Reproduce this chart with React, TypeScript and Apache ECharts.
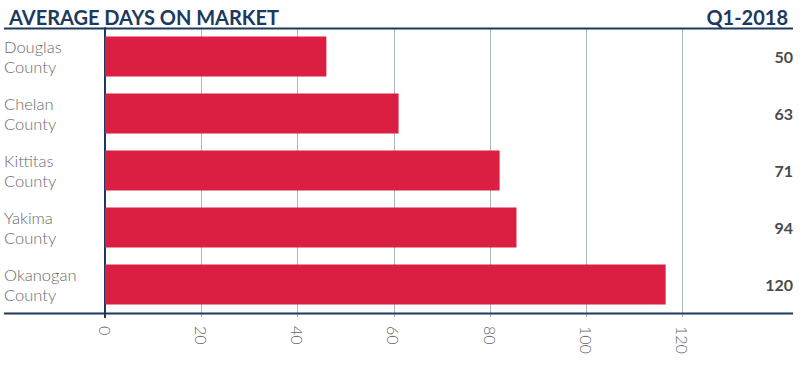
import React, { useEffect, useRef } from "react";
import * as echarts from "echarts";

const counties = ["Douglas\nCounty", "Chelan\nCounty", "Kittitas\nCounty", "Yakima\nCounty", "Okanogan\nCounty"];
const barValues = [46, 61, 82, 85.5, 116.5];
const rightLabels = ["50", "63", "71", "94", "120"];
const xTicks = [0, 20, 40, 60, 80, 100, 120];
const titleText = "AVERAGE DAYS ON MARKET";
const periodText = "Q1-2018";

const NAVY = "#1b3a5e";
const RED = "#da1f42";
const GRID = "#a9b7c3";
const FONT = "Lato, 'Open Sans', sans-serif";

export default function App() {
  const ref = useRef<HTMLDivElement>(null);
  useEffect(() => {
    if (!ref.current) return;
    const chart = echarts.init(ref.current, null, { renderer: "svg" });
    chart.setOption({
      animation: false,
      backgroundColor: "#ffffff",
      title: [
        {
          text: titleText,
          left: 4,
          top: 2,
          textStyle: { fontFamily: FONT, fontSize: 20, fontWeight: "bold", color: NAVY },
        },
        {
          text: periodText,
          right: 7,
          top: 2,
          textStyle: { fontFamily: FONT, fontSize: 20, fontWeight: "bold", color: NAVY },
        },
      ],
      grid: { left: 105, right: 117.5, top: 28, bottom: 73, containLabel: false },
      xAxis: {
        type: "value",
        min: 0,
        max: 120,
        interval: 20,
        axisLine: { show: false },
        axisTick: { show: true, length: 4, lineStyle: { color: GRID, width: 1 } },
        splitLine: { show: true, lineStyle: { color: GRID, width: 1 } },
        axisLabel: {
          rotate: -90,
          margin: 13,
          color: "#666666",
          fontFamily: FONT,
          fontSize: 16,
          fontWeight: 300,
          formatter: (v: number) => (xTicks.includes(v) ? String(v) : ""),
        },
      },
      yAxis: [
        {
          type: "category",
          data: counties,
          inverse: true,
          axisLine: { show: true, lineStyle: { color: NAVY, width: 2 } },
          axisTick: { show: false },
          axisLabel: {
            align: "left",
            margin: 101,
            color: "#6a6a6a",
            fontFamily: FONT,
            fontSize: 16.5,
            fontWeight: 300,
            lineHeight: 20,
          },
        },
        {
          type: "category",
          data: rightLabels,
          inverse: true,
          position: "right",
          axisLine: { show: false },
          axisTick: { show: false },
          axisLabel: {
            align: "right",
            margin: 110.5,
            color: "#4a4a4a",
            fontFamily: FONT,
            fontSize: 16,
            fontWeight: "bold",
          },
        },
      ],
      series: [
        {
          type: "bar",
          data: barValues,
          barCategoryGap: "30%",
          itemStyle: { color: RED },
          silent: true,
        },
      ],
      graphic: [
        {
          type: "line",
          shape: { x1: 4, y1: 28.5, x2: 793, y2: 28.5 },
          style: { stroke: NAVY, lineWidth: 2 },
          z: 10,
        },
        {
          type: "line",
          shape: { x1: 4, y1: 313.5, x2: 793, y2: 313.5 },
          style: { stroke: NAVY, lineWidth: 2 },
          z: 10,
        },
        {
          type: "line",
          shape: { x1: 105, y1: 313, x2: 105, y2: 318 },
          style: { stroke: NAVY, lineWidth: 2 },
          z: 10,
        },
      ],
    });
    return () => chart.dispose();
  }, []);
  return <div ref={ref} style={{ width: 800, height: 386, position: "absolute", left: 0, top: 0 }} />;
}
